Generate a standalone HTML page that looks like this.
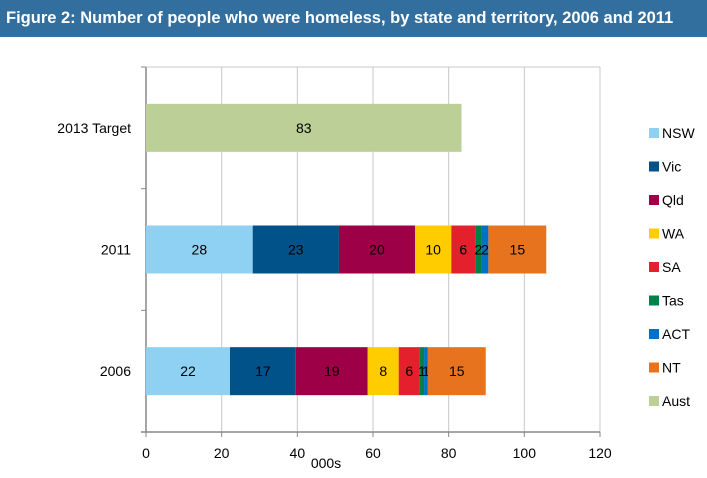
<!DOCTYPE html>
<html><head><meta charset="utf-8"><style>
body{margin:0;width:707px;height:478px;background:#fff;overflow:hidden;font-family:"Liberation Sans",sans-serif}
#title{position:absolute;left:0;top:0;width:707px;height:37px;background:#336f9e;color:#fff;font-weight:bold;font-size:16.5px;line-height:37px;padding-left:6px;box-sizing:border-box;white-space:nowrap}
svg{position:absolute;left:0;top:0}
text{font-family:"Liberation Sans",sans-serif;font-size:14px;fill:#000}
</style></head><body>
<div id="title">Figure 2: Number of people who were homeless, by state and territory, 2006 and 2011</div>
<svg id="chart" width="707" height="478"></svg>
<script>
const categories = ["2013 Target","2011","2006"];
const seriesNames = ["NSW","Vic","Qld","WA","SA","Tas","ACT","NT","Aust"];
const colors = ["#8fd1f3","#005288","#9e0047","#ffcc00","#e3202b","#00814a","#0071c5","#e8731f","#bccf96"];
const v2013 = [0,0,0,0,0,0,0,0,83.4];
const v2011 = [28.2,22.8,20.1,9.6,6.3,1.7,1.8,15.3,0];
const v2006 = [22.2,17.4,19.0,8.2,5.6,1.1,1.0,15.3,0];
const labels2011 = [28,23,20,10,6,2,2,15,null];
const labels2006 = [22,17,19,8,6,1,1,15,null];
const labels2013 = [null,null,null,null,null,null,null,null,83];
const xTicks = [0,20,40,60,80,100,120];
const NS="http://www.w3.org/2000/svg";
const svg=document.getElementById('chart');
const x0=146,x1=600,yTop=67,yBot=432,xMax=120;
const X=v=>x0+v/xMax*(x1-x0);
const band=(yBot-yTop)/categories.length;
function mk(t,a,p){const e=document.createElementNS(NS,t);for(const k in a)e.setAttribute(k,a[k]);(p||svg).appendChild(e);return e;}
xTicks.forEach((t,i)=>{
  const g=mk('line',{x1:X(t),x2:X(t),y1:yTop,y2:yBot,stroke:i==0?'#888':'#c8c8c8','stroke-width':i==0?1.5:1});
  
  
  const tl=mk('text',{x:X(t),y:yBot+26,'text-anchor':'middle'});tl.textContent=t;
  
  
  const tk=mk('line',{x1:X(t),x2:X(t),y1:yBot,y2:yBot+5,stroke:'#888'});
  
  
});
const plotTop=mk('line',{x1:x0,x2:x1,y1:yTop,y2:yTop,stroke:'#c8c8c8'});


const ax=mk('line',{x1:x0-5,x2:x1,y1:yBot,y2:yBot,stroke:'#888','stroke-width':1.5});


for(let i=0;i<=categories.length;i++){
  const t=mk('line',{x1:x0-5,x2:x0,y1:yTop+i*band,y2:yTop+i*band,stroke:'#888'});
  
  
}
const allVals=[v2013,v2011,v2006], allLabels=[labels2013,labels2011,labels2006];
const barH=48;
categories.forEach((c,ci)=>{
  const cy=yTop+band*(ci+0.5);
  const cl=mk('text',{x:x0-15,y:cy+5,'text-anchor':'end'});cl.textContent=c;
  
  
  let acc=0;
  allVals[ci].forEach((v,si)=>{
    if(v<=0)return;
    const r=mk('rect',{x:X(acc),y:cy-barH/2,width:X(acc+v)-X(acc),height:barH,fill:colors[si]});
    
    
    const lb=allLabels[ci][si];
    if(lb!=null){
      const t=mk('text',{x:(X(acc)+X(acc+v))/2,y:cy+5,'text-anchor':'middle'});
      t.textContent=lb;
      
      
    }
    acc+=v;
  });
});
const xt=mk('text',{x:326,y:468,'text-anchor':'middle'});xt.textContent='000s';


seriesNames.forEach((n,i)=>{
  const y=133+i*33.5;
  const g=mk('g',{});
  
  
  mk('rect',{x:649,y:y-5,width:10,height:10,fill:colors[i]},g);
  const t=mk('text',{x:662,y:y+5},g);t.textContent=n;
});
</script>
</body></html>
